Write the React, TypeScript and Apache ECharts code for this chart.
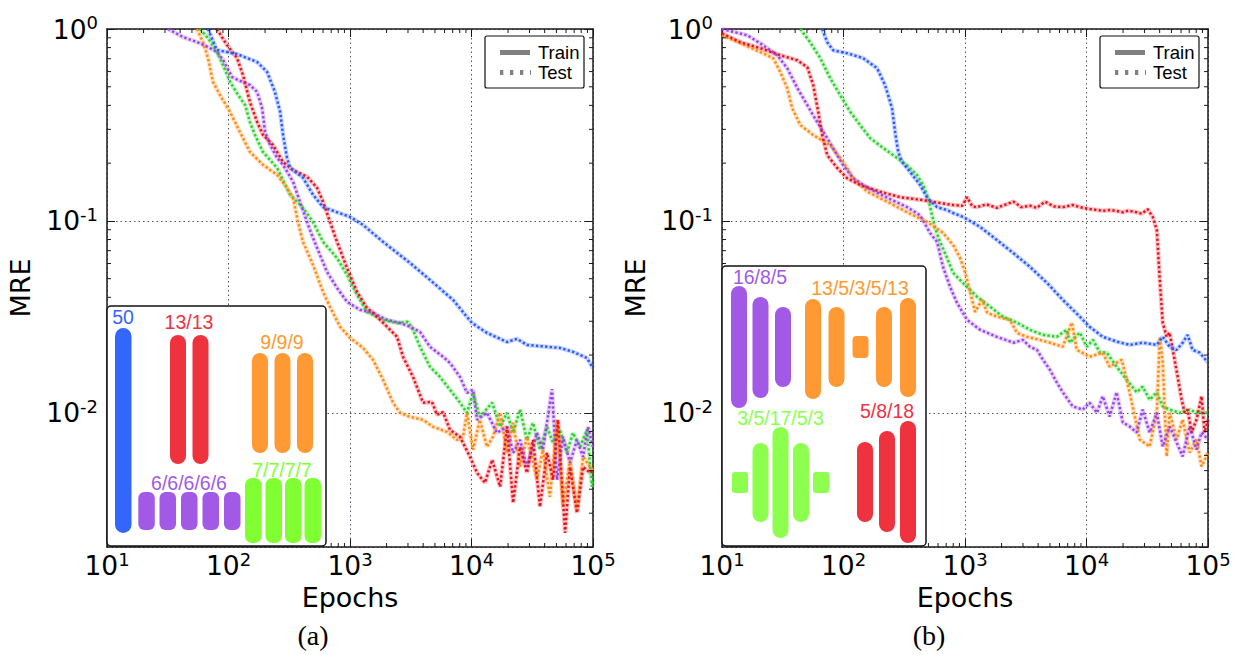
import React, { useEffect, useRef } from 'react';
import * as echarts from 'echarts';

const X_MIN = 10;
const X_MAX = 100000;
const Y_MIN = 0.002;
const Y_MAX = 1;

// Panel (a)
const aBlue = [[67.8,1.0],[80,0.778],[117,0.741],[172,0.673],[208,0.597],[241,0.47],[266,0.37],[281,0.281],[303,0.213],[321,0.189],[410,0.168],[496,0.137],[600,0.118],[782,0.111],[1000,0.105],[1280,0.0953],[1870,0.0778],[3120,0.0604],[4550,0.0493],[7050,0.0388],[10090,0.0294],[13400,0.0261],[19600,0.0234],[23700,0.0243],[28600,0.0226],[41800,0.0221],[53500,0.0218],[68400,0.0208],[89300,0.0193],[100000,0.0171]];
const aRed = [[80.3,1.0],[97,0.826],[117.5,0.706],[131.5,0.576],[150,0.417],[172,0.328],[192,0.281],[232,0.249],[281,0.203],[340,0.184],[443,0.17],[535,0.149],[600,0.126],[685,0.0988],[782,0.0778],[945,0.0569],[1142,0.0427],[1380,0.0352],[1546,0.0332],[2017,0.0281],[2440,0.0249],[2730,0.0196],[3300,0.0154],[3990,0.0113],[4730,0.0114],[5200,0.00977],[5830,0.0101],[6650,0.00815],[8040,0.0075],[9720,0.0059],[11100,0.00487],[12900,0.00432],[14800,0.00569],[17200,0.00412],[19600,0.00846],[22000,0.0034],[25100,0.00665],[28600,0.00487],[32100,0.00723],[36600,0.00324],[41800,0.00619],[46900,0.00448],[51500,0.0092],[58900,0.00237],[64700,0.00523],[73800,0.00301],[82800,0.00523],[94500,0.00487],[100000,0.005]];
const aOrange = [[55,1.0],[61.7,0.855],[67.8,0.706],[74.5,0.53],[85.1,0.453],[103,0.37],[124,0.291],[150,0.229],[192,0.196],[251,0.174],[303,0.149],[340,0.132],[373,0.0988],[410,0.0778],[496,0.059],[600,0.0427],[685,0.0356],[828,0.0281],[1000,0.0246],[1280,0.0218],[1546,0.0189],[1870,0.0149],[2260,0.0113],[2580,0.01],[3120,0.00953],[3990,0.0092],[4820,0.00846],[6280,0.00796],[7600,0.00723],[8510,0.0075],[9180,0.01],[10300,0.00642],[11700,0.0092],[13400,0.00665],[15000,0.0075],[17200,0.01],[19600,0.00619],[22000,0.00887],[25100,0.00523],[28600,0.0075],[34600,0.00448],[38700,0.00642],[44200,0.00365],[50600,0.0092],[56600,0.00324],[64700,0.00569],[73800,0.00313],[82800,0.0059],[94500,0.00523],[100000,0.005]];
const aPurple = [[31.8,1.0],[42.3,0.908],[55,0.855],[67.8,0.806],[80.3,0.759],[90.1,0.69],[107,0.562],[120,0.542],[150,0.511],[172,0.47],[189,0.388],[200,0.291],[220,0.249],[251,0.213],[281,0.196],[340,0.16],[387,0.126],[443,0.0988],[496,0.0815],[566,0.0665],[647,0.0542],[782,0.0448],[945,0.0379],[1208,0.0344],[1546,0.0332],[2017,0.0305],[2580,0.0294],[3120,0.0281],[3770,0.0264],[4550,0.0221],[5830,0.0196],[6650,0.0182],[8040,0.0154],[9180,0.0127],[10300,0.0132],[11100,0.0092],[13400,0.01],[16200,0.00787],[19600,0.00846],[22000,0.00619],[25100,0.00723],[28600,0.00523],[34600,0.00787],[38700,0.00642],[46000,0.0133],[50600,0.00448],[56600,0.0075],[64700,0.0055],[73800,0.00723],[82800,0.0059],[91000,0.00846],[100000,0.00665]];
const aGreen = [[58.2,1.0],[67.8,0.898],[80.3,0.759],[90.1,0.649],[103,0.53],[120,0.453],[137,0.402],[150,0.328],[165,0.281],[192,0.229],[251,0.189],[321,0.137],[410,0.117],[496,0.0988],[600,0.0778],[782,0.0641],[945,0.0524],[1142,0.0412],[1380,0.0336],[1870,0.0305],[2440,0.0294],[3000,0.0298],[3300,0.0271],[3770,0.0221],[4550,0.0174],[5500,0.0154],[6650,0.0132],[8040,0.0113],[9180,0.01],[10300,0.0127],[11700,0.00953],[14800,0.0113],[17200,0.00846],[19600,0.01],[22000,0.00787],[25100,0.0104],[28600,0.00723],[32100,0.00887],[36600,0.00642],[41800,0.00846],[46900,0.00698],[53500,0.00815],[61100,0.00619],[68400,0.00787],[78200,0.00665],[89300,0.00815],[98100,0.00412],[100000,0.0045]];

// Panel (b)
const bBlue = [[66.8,1.0],[73.5,0.853],[82.2,0.775],[107,0.748],[145,0.705],[189,0.625],[220,0.509],[251,0.387],[266,0.29],[282,0.229],[303,0.203],[353,0.18],[427,0.154],[488,0.132],[589,0.118],[711,0.114],[797,0.11],[962,0.105],[1330,0.0931],[1830,0.0796],[2480,0.0682],[3420,0.0577],[4720,0.0476],[6380,0.0388],[8810,0.0317],[10600,0.0281],[13600,0.0249],[17700,0.0235],[22700,0.0226],[29000,0.0232],[37900,0.0226],[42400,0.0249],[48300,0.0221],[55200,0.0213],[61800,0.0232],[68000,0.0255],[74600,0.0213],[85300,0.0206],[100000,0.0183]];
const bRed = [[10,0.95],[14.2,0.853],[20.7,0.794],[30.2,0.73],[41.7,0.687],[50.4,0.632],[56.4,0.509],[62,0.369],[66.8,0.28],[73.5,0.22],[88.7,0.189],[107,0.167],[137,0.154],[200,0.142],[292,0.133],[427,0.129],[623,0.124],[797,0.121],[950,0.12],[1040,0.133],[1150,0.119],[1256,0.118],[1500,0.122],[1830,0.117],[2100,0.121],[2510,0.126],[2900,0.118],[3420,0.12],[3900,0.117],[4550,0.126],[5400,0.119],[6380,0.118],[7700,0.121],[9330,0.117],[11000,0.115],[13600,0.113],[16000,0.114],[19900,0.111],[22000,0.113],[25900,0.111],[28500,0.109],[31900,0.115],[35100,0.105],[37900,0.0898],[40100,0.0493],[42400,0.0295],[45700,0.0249],[48300,0.0262],[53100,0.0189],[56200,0.0155],[60700,0.0117],[64300,0.01],[68000,0.0104],[73300,0.0079],[80500,0.00923],[88500,0.0122],[93700,0.0079],[100000,0.0092]];
const bOrange = [[10,0.927],[14.2,0.843],[20.7,0.757],[26.4,0.705],[30.2,0.596],[34.4,0.492],[37.8,0.387],[44.1,0.316],[56.4,0.28],[77.8,0.248],[99.5,0.203],[120,0.167],[157,0.142],[229,0.126],[334,0.111],[488,0.0988],[659,0.0867],[797,0.075],[910,0.0643],[1000,0.0543],[1100,0.0428],[1210,0.0336],[1280,0.0357],[1380,0.0388],[1520,0.0333],[1830,0.0317],[2340,0.0305],[2680,0.0261],[3230,0.0249],[4130,0.024],[4990,0.0232],[6380,0.0221],[7570,0.0295],[8320,0.0213],[10600,0.0196],[13600,0.0206],[15500,0.0174],[19500,0.0189],[21400,0.0149],[24000,0.0108],[27400,0.00726],[33100,0.00668],[37900,0.01],[40100,0.0249],[42400,0.0183],[45700,0.00593],[48300,0.01],[55200,0.00726],[61800,0.00923],[70600,0.00621],[80500,0.00726],[88500,0.00526],[100000,0.0062]];
const bPurple = [[10,1.0],[16.2,0.927],[21.9,0.822],[28.5,0.73],[34.4,0.625],[41.7,0.492],[50.4,0.401],[60.8,0.327],[73.5,0.27],[88.7,0.22],[99.5,0.195],[120,0.167],[157,0.149],[229,0.132],[334,0.118],[427,0.107],[516,0.0865],[589,0.0778],[659,0.0577],[753,0.0454],[859,0.0375],[1040,0.0305],[1330,0.0271],[1830,0.0249],[2510,0.0232],[3000,0.024],[3420,0.0221],[3910,0.0213],[4380,0.0189],[4990,0.0168],[5700,0.0144],[6380,0.0128],[7710,0.0108],[9330,0.0104],[10600,0.0113],[12200,0.01],[13600,0.0122],[15500,0.00957],[17700,0.0128],[19900,0.00891],[22700,0.00849],[25900,0.0079],[29000,0.0104],[33100,0.0079],[37900,0.01],[42400,0.00668],[48300,0.00849],[55200,0.00701],[61800,0.00593],[70600,0.00849],[80500,0.00644],[88500,0.0079],[100000,0.00726]];
const bGreen = [[44.1,1.0],[53.2,0.853],[64.4,0.705],[77.8,0.554],[94,0.452],[114,0.369],[137,0.316],[166,0.27],[212,0.24],[276,0.213],[333,0.195],[403,0.173],[452,0.154],[497,0.132],[536,0.107],[566,0.092],[623,0.0778],[711,0.0643],[797,0.0537],[962,0.0476],[1256,0.0403],[1610,0.0357],[2050,0.0317],[2680,0.0295],[3420,0.0271],[4380,0.0255],[5700,0.0249],[6890,0.0271],[7290,0.0232],[8810,0.0262],[10050,0.0221],[11300,0.024],[12900,0.0206],[14700,0.0206],[17700,0.0174],[21400,0.0149],[25900,0.0128],[29000,0.0137],[33100,0.0117],[37900,0.0128],[42400,0.0108],[48300,0.0104],[58300,0.01],[70600,0.0104],[80500,0.01],[100000,0.01]];

const LINE_COLORS: Record<string, string> = {
  blue: '#2b5cff',
  red: '#e6141e',
  orange: '#ff8a14',
  purple: '#9a46e6',
  green: '#2fcf2f',
};

const INSET_COLORS = {
  blue: '#3366ff',
  red: '#ee333f',
  orange: '#ff9933',
  purple: '#a259e6',
  green: '#80ff33',
  green2: '#8cff4f',
};

const panelA = [['green', aGreen], ['orange', aOrange], ['purple', aPurple], ['red', aRed], ['blue', aBlue]] as const;
const panelB = [['green', bGreen], ['orange', bOrange], ['purple', bPurple], ['red', bRed], ['blue', bBlue]] as const;

const PANEL_LEFT = [107, 722];
const PANEL_WIDTH = 486;
const PANEL_TOP = 29;
const PANEL_HEIGHT = 518;

function rgba(hex: string, a: number) {
  const n = parseInt(hex.slice(1), 16);
  return `rgba(${(n >> 16) & 255},${(n >> 8) & 255},${n & 255},${a})`;
}

const minorX: number[] = [];
[10, 100, 1000, 10000].forEach((d) => { for (let m = 2; m <= 9; m++) minorX.push(m * d); });
const minorY: number[] = [];
[0.001, 0.01, 0.1].forEach((d) => { for (let m = 2; m <= 9; m++) { const v = m * d; if (v > Y_MIN + 1e-9) minorY.push(v); } });

const labelFmt = (v: number) => {
  const l = Math.log10(v);
  const e = Math.round(l);
  if (Math.abs(l - e) > 1e-6) return '';
  return `{b|10}{s|${e}}`;
};
const rich = {
  b: { fontFamily: 'DejaVu Sans', fontSize: 26.5, lineHeight: 31, color: '#000' },
  s: { fontFamily: 'DejaVu Sans', fontSize: 18, lineHeight: 17, verticalAlign: 'top', color: '#000' },
};
const AXIS_COLOR = '#1a1a1a';
const axisLine = { show: true, onZero: false, lineStyle: { color: AXIS_COLOR, width: 1.5 } };
const axisTick = { show: true, inside: true, length: 8, lineStyle: { color: AXIS_COLOR, width: 1 } };
const splitLine = { show: true, lineStyle: { color: '#555', width: 1, type: [1.5, 3] } };

function buildOption() {
  const grid: any[] = [];
  const xAxis: any[] = [];
  const yAxis: any[] = [];
  const series: any[] = [];
  const panels = [panelA, panelB];
  panels.forEach((panel, i) => {
    grid.push({ left: PANEL_LEFT[i], top: PANEL_TOP, width: PANEL_WIDTH, height: PANEL_HEIGHT, containLabel: false });
    xAxis.push({
      type: 'log', logBase: 10, gridIndex: i, min: X_MIN, max: X_MAX, position: 'bottom',
      axisLine, axisTick, splitLine,
      axisLabel: { formatter: labelFmt, rich, margin: 3, showMinLabel: true, showMaxLabel: true },
      name: 'Epochs', nameLocation: 'middle', nameGap: 35,
      nameTextStyle: { fontFamily: 'DejaVu Sans', fontSize: 27, color: '#000' },
    });
    xAxis.push({
      type: 'log', logBase: 10, gridIndex: i, min: X_MIN, max: X_MAX, position: 'top',
      axisLine, axisTick, splitLine: { show: false }, axisLabel: { show: false },
    });
    yAxis.push({
      type: 'log', logBase: 10, gridIndex: i, min: Y_MIN, max: Y_MAX, position: 'left',
      axisLine, axisTick, splitLine,
      axisLabel: { formatter: labelFmt, rich, margin: 9, showMinLabel: false, showMaxLabel: true },
      name: 'MRE', nameLocation: 'middle', nameGap: 73, nameRotate: 90,
      nameTextStyle: { fontFamily: 'DejaVu Sans', fontSize: 27, color: '#000' },
    });
    yAxis.push({
      type: 'log', logBase: 10, gridIndex: i, min: Y_MIN, max: Y_MAX, position: 'right',
      axisLine, axisTick, splitLine: { show: false }, axisLabel: { show: false },
    });
    const xi = i * 2;
    const yi = i * 2;
    panel.forEach(([c, data]) => {
      series.push({
        type: 'line', xAxisIndex: xi, yAxisIndex: yi, data, symbol: 'none', silent: true, z: 2,
        lineStyle: { color: rgba(LINE_COLORS[c], 0.25), width: 4.5 },
      });
    });
    panel.forEach(([c, data]) => {
      series.push({
        type: 'line', xAxisIndex: xi, yAxisIndex: yi, data, symbol: 'none', silent: true, z: 3,
        lineStyle: { color: LINE_COLORS[c], width: 2.5, type: [2.3, 2.3] },
      });
    });
    series.push({
      type: 'custom', xAxisIndex: xi, yAxisIndex: yi, silent: true, z: 5, clip: false,
      data: minorX.map((v) => [v, Y_MIN]),
      renderItem: (_p: any, api: any) => {
        const x = api.value(0);
        const b = api.coord([x, Y_MIN]);
        const t = api.coord([x, Y_MAX]);
        return {
          type: 'group',
          children: [
            { type: 'line', shape: { x1: b[0], y1: b[1], x2: b[0], y2: b[1] - 4 }, style: { stroke: AXIS_COLOR, lineWidth: 1 } },
            { type: 'line', shape: { x1: t[0], y1: t[1], x2: t[0], y2: t[1] + 4 }, style: { stroke: AXIS_COLOR, lineWidth: 1 } },
          ],
        };
      },
    });
    series.push({
      type: 'custom', xAxisIndex: xi, yAxisIndex: yi, silent: true, z: 5, clip: false,
      data: minorY.map((v) => [X_MIN, v]),
      renderItem: (_p: any, api: any) => {
        const y = api.value(1);
        const l = api.coord([X_MIN, y]);
        const r = api.coord([X_MAX, y]);
        return {
          type: 'group',
          children: [
            { type: 'line', shape: { x1: l[0], y1: l[1], x2: l[0] + 4, y2: l[1] }, style: { stroke: AXIS_COLOR, lineWidth: 1 } },
            { type: 'line', shape: { x1: r[0], y1: r[1], x2: r[0] - 4, y2: r[1] }, style: { stroke: AXIS_COLOR, lineWidth: 1 } },
          ],
        };
      },
    });
  });

  const g: any[] = [];
  const pill = (x: number, y: number, w: number, h: number, r: number, fill: string) =>
    g.push({ type: 'rect', z: 101, silent: true, shape: { x, y, width: w, height: h, r }, style: { fill } });
  const label = (x: number, y: number, text: string, fill: string, size = 19.5) =>
    g.push({ type: 'text', z: 102, silent: true, x, y, style: { text, fill, fontSize: size, fontFamily: 'Liberation Sans', textAlign: 'center', textVerticalAlign: 'middle' } });

  // legends
  [0, 615].forEach((dx) => {
    g.push({ type: 'rect', z: 100, silent: true, shape: { x: 485 + dx, y: 36, width: 99, height: 52, r: 2 }, style: { fill: '#fff', stroke: '#111', lineWidth: 1.2 } });
    g.push({ type: 'line', z: 101, silent: true, shape: { x1: 500 + dx, y1: 52.5, x2: 530 + dx, y2: 52.5 }, style: { stroke: '#808080', lineWidth: 5 } });
    g.push({ type: 'line', z: 101, silent: true, shape: { x1: 500 + dx, y1: 72.5, x2: 531 + dx, y2: 72.5 }, style: { stroke: '#808080', lineWidth: 5, lineDash: [3.3, 6.7] } });
    g.push({ type: 'text', z: 102, silent: true, x: 538 + dx, y: 52.5, style: { text: 'Train', fill: '#000', fontSize: 18.5, fontFamily: 'Liberation Sans', textAlign: 'left', textVerticalAlign: 'middle' } });
    g.push({ type: 'text', z: 102, silent: true, x: 538 + dx, y: 72.5, style: { text: 'Test', fill: '#000', fontSize: 18.5, fontFamily: 'Liberation Sans', textAlign: 'left', textVerticalAlign: 'middle' } });
  });

  // inset (a)
  g.push({ type: 'rect', z: 100, silent: true, shape: { x: 107, y: 306, width: 219, height: 240, r: 4 }, style: { fill: '#fff', stroke: '#111', lineWidth: 1.5 } });
  label(123, 317, '50', INSET_COLORS.blue);
  pill(115, 328, 16.5, 205, 8.25, INSET_COLORS.blue);
  label(189, 322, '13/13', INSET_COLORS.red);
  [170, 192.5].forEach((x) => pill(x, 335, 16, 129, 8, INSET_COLORS.red));
  label(282, 342, '9/9/9', INSET_COLORS.orange);
  [252, 274.5, 297].forEach((x) => pill(x, 353, 16, 100, 8, INSET_COLORS.orange));
  label(189, 483, '6/6/6/6/6', INSET_COLORS.purple);
  [138.3, 159.5, 181, 202.5, 224].forEach((x) => pill(x, 492, 16.5, 38, 6, INSET_COLORS.purple));
  label(282, 470, '7/7/7/7', INSET_COLORS.green);
  [245, 265.5, 285, 304.5].forEach((x) => pill(x, 478, 16.5, 65, 7, INSET_COLORS.green));

  // inset (b)
  g.push({ type: 'rect', z: 100, silent: true, shape: { x: 722, y: 266, width: 204, height: 280, r: 4 }, style: { fill: '#fff', stroke: '#111', lineWidth: 1.5 } });
  label(760, 277, '16/8/5', INSET_COLORS.purple);
  pill(731, 286, 16, 122, 8, INSET_COLORS.purple);
  pill(752.5, 297, 16, 101, 8, INSET_COLORS.purple);
  pill(775, 307, 16, 80, 8, INSET_COLORS.purple);
  label(860, 288, '13/5/3/5/13', INSET_COLORS.orange);
  pill(805, 299, 16, 100, 8, INSET_COLORS.orange);
  pill(828.5, 307, 16, 80, 8, INSET_COLORS.orange);
  pill(852.5, 336, 16, 22, 4, INSET_COLORS.orange);
  pill(876, 307, 16, 80, 8, INSET_COLORS.orange);
  pill(900, 298, 16, 99, 8, INSET_COLORS.orange);
  label(780.5, 418, '3/5/17/5/3', INSET_COLORS.green2);
  pill(732, 472, 16, 21, 3, INSET_COLORS.green2);
  pill(752.5, 443, 16, 79, 8, INSET_COLORS.green2);
  pill(772.5, 427, 16, 111, 8, INSET_COLORS.green2);
  pill(793, 443, 16, 79, 8, INSET_COLORS.green2);
  pill(813, 472, 16, 21, 3, INSET_COLORS.green2);
  label(887, 411, '5/8/18', INSET_COLORS.red);
  pill(857, 442, 16, 80, 8, INSET_COLORS.red);
  pill(879, 431, 16, 101, 8, INSET_COLORS.red);
  pill(900, 421, 16, 122, 8, INSET_COLORS.red);

  // captions
  g.push({ type: 'text', z: 102, silent: true, x: 313, y: 635, style: { text: '(a)', fill: '#000', fontSize: 28, fontFamily: 'Liberation Serif', textAlign: 'center', textVerticalAlign: 'middle' } });
  g.push({ type: 'text', z: 102, silent: true, x: 929, y: 635, style: { text: '(b)', fill: '#000', fontSize: 28, fontFamily: 'Liberation Serif', textAlign: 'center', textVerticalAlign: 'middle' } });

  return {
    animation: false,
    backgroundColor: '#fff',
    grid, xAxis, yAxis, series,
    graphic: { elements: g },
  };
}

export default function App() {
  const ref = useRef<HTMLDivElement>(null);
  useEffect(() => {
    if (!ref.current) return;
    const chart = echarts.init(ref.current, undefined, { renderer: 'svg' });
    chart.setOption(buildOption() as any);
    return () => chart.dispose();
  }, []);
  return <div ref={ref} style={{ position: 'fixed', left: 0, top: 0, width: 1238, height: 655 }} />;
}
